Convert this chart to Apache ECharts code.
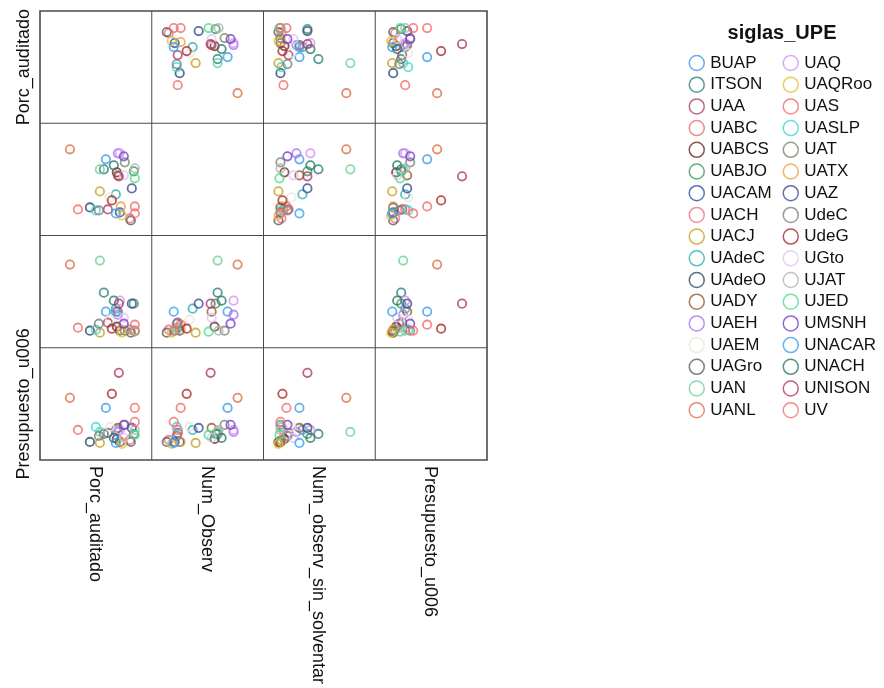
<!DOCTYPE html>
<html><head><meta charset="utf-8">
<script src="https://cdn.jsdelivr.net/npm/echarts@6/dist/echarts.min.js"></script>
<style>html,body{margin:0;padding:0;background:#fff}#c{width:884px;height:688px}</style>
</head><body><div id="c"></div>
<script>
// ---- data ----
const universities = ['BUAP','ITSON','UAA','UABC','UABCS','UABJO','UACAM','UACH','UACJ','UAdeC','UAdeO','UADY','UAEH','UAEM','UAGro','UAN','UANL',
  'UAQ','UAQRoo','UAS','UASLP','UAT','UATX','UAZ','UdeC','UdeG','UGto','UJAT','UJED','UMSNH','UNACAR','UNACH','UNISON','UV'];
const porcAuditado =          [66,64,68,38,77,94,80,90,60,76,50,78,78,70,91,60,30, 80,82,95,56,85,81,92,59,72,84,95,95,84,76,74,79,95];
const numObserv =             [76,66,26,26,63,64,23,17,44,41,28,60,82,38,15,66,86, 82,20,29,25,73,29,47,25,35,60,67,57,79,22,70,59,22];
const numObservSinSolventar = [36,55,25,20,21,44,17,18,15,39,17,36,33,28,15,87,83, 47,15,23,18,17,18,44,24,19,30,17,16,24,36,47,44,17];
const presupuestoU006 =       [1040,520,540,600,420,520,360,400,340,600,360,640,560,660,360,560,1240,
                               600,320,1040,660,700,360,640,480,1320,440,600,500,700,340,440,1740,760];
const variableNames = ['Porc_auditado','Num_Observ','Num_observ_sin_solventar','Presupuesto_u006'];
const colors = ['#3d9be9','#2f7f80','#b0406f','#f26d6d','#6a2a2a','#3a9a5c','#2f4fa8','#f06f8c','#c9a024','#2fb0b0','#2b4a6b','#9a5a2a','#a874f2','#ebe6d8','#5f5f5f','#6cd39a','#e0714c',
                '#d493f2','#e8c232','#f06f6f','#3fd8d8','#7a8a6a','#e9a23e','#3b4a9a','#7f7f7f','#a82b2b','#e2c3f3','#b3b3b3','#4fe084','#7a40d2','#3aa2f2','#2a7a6a','#b03a6a','#f27070'];

const vars = [porcAuditado, numObserv, numObservSinSolventar, presupuestoU006];
const ranges = [[0,112],[0,112],[0,112],[0,2240]];

// ---- layout ----
const L = 40, T = 11, CW = 111.75, CH = 112.25, N = 4;
const grids = [], xAxes = [], yAxes = [], series = [];
let k = 0;
for (let i = 0; i < N; i++) {
  for (let j = 0; j < N; j++) {
    if (i === j) continue;
    grids.push({left: L + j*CW, top: T + i*CH, width: CW, height: CH, containLabel:false});
    xAxes.push({type:'value', gridIndex:k, min:ranges[j][0], max:ranges[j][1], show:false});
    yAxes.push({type:'value', gridIndex:k, min:ranges[i][0], max:ranges[i][1], show:false});
    universities.forEach((u, ui) => {
      series.push({
        type:'scatter', name:u, xAxisIndex:k, yAxisIndex:k,
        data:[[vars[j][ui], vars[i][ui]]],
        symbol:'circle', symbolSize:8.4, silent:true,
        itemStyle:{color:'rgba(255,255,255,0)', borderColor:colors[ui], borderWidth:1.8},
        emphasis:{disabled:true}
      });
    });
    k++;
  }
}

const graphics = [];
graphics.push({type:'rect', shape:{x:L, y:T, width:CW*4, height:CH*4}, style:{fill:'none', stroke:'#4a4a4a', lineWidth:1.6}, z:10});
for (let q = 1; q < N; q++) {
  graphics.push({type:'line', shape:{x1:L+q*CW, y1:T, x2:L+q*CW, y2:T+CH*4}, style:{stroke:'#4a4a4a', lineWidth:1}, z:10});
  graphics.push({type:'line', shape:{x1:L, y1:T+q*CH, x2:L+CW*4, y2:T+q*CH}, style:{stroke:'#4a4a4a', lineWidth:1}, z:10});
}
// bottom labels
variableNames.forEach((v, j) => {
  graphics.push({type:'text', x: L + j*CW + CW/2 - 1, y: T + CH*4 + 6, rotation: -Math.PI/2,
    style:{text:v, fontSize:18, fontFamily:'Liberation Sans, Arial, sans-serif', fill:'#111', align:'left', verticalAlign:'middle'}});
});
// left labels (only first and last shown)
[0, 3].forEach(i => {
  graphics.push({type:'text', x: 24, y: T + i*CH + CH/2, rotation: Math.PI/2,
    style:{text:variableNames[i], fontSize:18, fontFamily:'Liberation Sans, Arial, sans-serif', fill:'#111', align:'center', verticalAlign:'middle'}});
});
graphics.push({type:'text', x:782, y:33, style:{text:'siglas_UPE', fontSize:20, fontWeight:'bold', fontFamily:'Liberation Sans, Arial, sans-serif', fill:'#111', align:'center', verticalAlign:'middle'}});

const legendCommon = {
  orient:'vertical', icon:'circle', itemWidth:15, itemHeight:15, itemGap:4.7, selectedMode:false, padding:0,
  itemStyle:{color:'rgba(255,255,255,0)', borderWidth:1.5},
  textStyle:{fontSize:17, fontFamily:'Liberation Sans, Arial, sans-serif', color:'#111', padding:[0,0,0,1]}
};

const chart = echarts.init(document.getElementById('c'), null, {renderer:'canvas'});
chart.setOption({
  animation:false,
  grid:grids, xAxis:xAxes, yAxis:yAxes, series:series,
  legend:[
    Object.assign({}, legendCommon, {left:688.5, top:54.5, data:universities.slice(0,17)}),
    Object.assign({}, legendCommon, {left:782.5, top:54.5, data:universities.slice(17)})
  ],
  graphic:graphics
});
</script></body></html>
